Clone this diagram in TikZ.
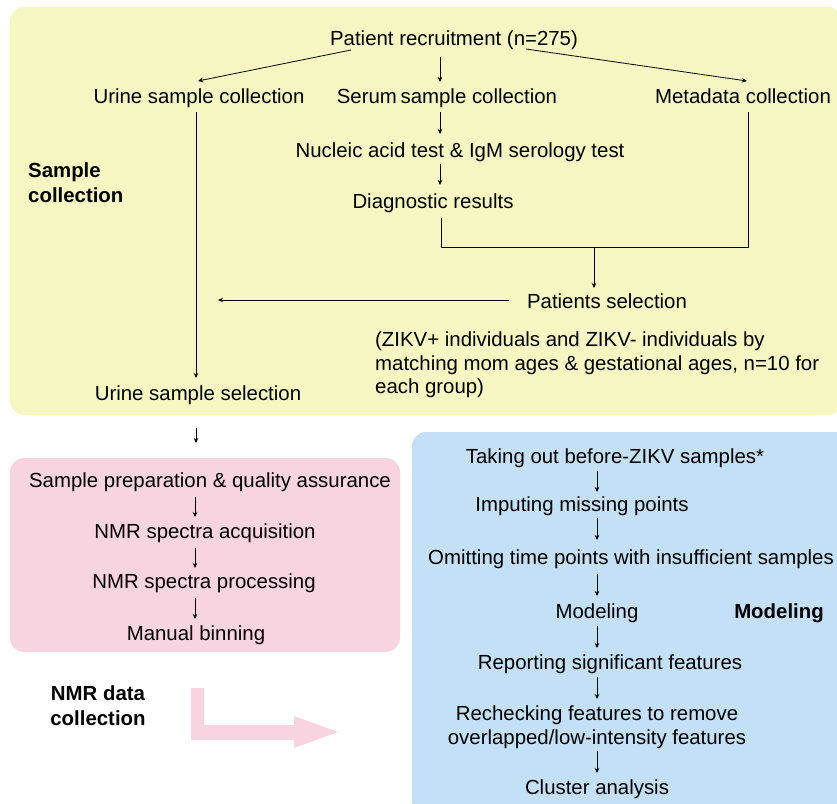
\documentclass[tikz,border=0pt]{standalone}
\usepackage{fontspec}
\setmainfont{Liberation Sans}
\usetikzlibrary{arrows.meta}
\definecolor{ybg}{HTML}{F6F6C3}
\definecolor{pbg}{HTML}{F8D3E0}
\definecolor{bbg}{HTML}{C3E0F7}
\definecolor{parrow}{HTML}{F8D3E0}
\tikzset{
  txt/.style={font=\fontsize{20.4}{23.5}\selectfont, inner sep=0pt, text height=14.6pt, text depth=0pt},
  mtxt/.style={font=\fontsize{20.4}{23.5}\selectfont, inner sep=0pt},
  btxt/.style={font=\fontsize{20.4}{24.5}\selectfont\bfseries, inner sep=0pt},
  arr/.style={line width=0.8pt, -{Stealth[length=5pt,width=4.5pt]}},
  ln/.style={line width=0.8pt},
}
\begin{document}
\begin{tikzpicture}[x=1pt,y=-1pt]
\useasboundingbox (0,0) rectangle (837,803);
\clip (0,0) rectangle (837,803);
% backgrounds
\fill[ybg, rounded corners=14pt] (10,7) rectangle (842,415);
\fill[pbg, rounded corners=14pt] (10,458) rectangle (400,652);
\fill[bbg, rounded corners=14pt] (412,432) rectangle (850,815);
% yellow region nodes
\node[txt] (pr) at (454,38) {Patient recruitment (n=275)};
\node[txt] (urc) at (199,96) {Urine sample collection};
\node[txt] (src) at (447,96) {Serum\hspace{-2pt} sample collection};
\node[txt] (mdc) at (743,96) {Metadata collection};
\node[txt] (nat) at (460,150) {Nucleic acid test \& IgM serology test};
\node[txt] (dr) at (433,201) {Diagnostic results};
\node[btxt, anchor=north west, align=left] (sc) at (28,163) {Sample\\collection};
\node[txt] (ps) at (607,301) {Patients selection};
\node[mtxt, anchor=north west, align=left] (pnote) at (375,332) {(ZIKV+ individuals and ZIKV- individuals by\\matching mom ages \& gestational ages, n=10 for\\each group)};
\node[txt] (uss) at (198,393) {Urine sample selection};
% yellow connectors
\coordinate (prl) at (351,50);
\coordinate (prr) at (526,49);
\coordinate (prm) at (440,57);
\coordinate (j1) at (441,247);
\coordinate (j2) at (748,247);
\coordinate (jm) at (594,247);
\coordinate (pla) at (218,300);
\draw[arr] (prl) -- (198,81);
\draw[arr] (prr) -- (747,81);
\draw[arr] (prm) -- (440,82);
\draw[arr] (440,112) -- (440,134);
\draw[arr] (440,164) -- (440,185);
\draw[ln] (441,218) -- (j1) -- (j2) -- (748,112);
\draw[arr] (jm) -- (594,288);
\draw[arr] (509,300) -- (pla);
\draw[arr] (196,112) -- (196,378);
% between
\draw[arr] (196,428) -- (196,443);
% pink region
\node[txt] (sp) at (210,480) {Sample preparation \& quality assurance};
\node[txt] (na) at (205,531) {NMR spectra acquisition};
\node[txt] (np) at (204,581) {NMR spectra processing};
\node[txt] (mb) at (196,633) {Manual binning};
\draw[arr] (195,497) -- (195,517);
\draw[arr] (195,548) -- (195,568);
\draw[arr] (195,598) -- (195,619);
\node[btxt, anchor=north, align=center] (nmr) at (98,686) {NMR data\\collection};
% pink big arrow
\fill[parrow] (191,688) -- (204,688) -- (204,725) -- (294,725) -- (294,716) -- (338,732) -- (294,748) -- (294,740) -- (191,740) -- cycle;
% blue region
\node[txt] (to) at (615,456) {Taking out before-ZIKV samples*};
\node[txt] (im) at (582,504) {Imputing missing points};
\node[txt] (om) at (631,557) {Omitting time points with insufficient samples};
\node[txt] (mo) at (597,611) {Modeling};
\node[btxt, text height=14.6pt, text depth=0pt] (mob) at (779,611) {Modeling};
\node[txt] (rs) at (610,662) {Reporting significant features};
\node[mtxt, align=center] (rc) at (597,727) {Rechecking features to remove\\overlapped/low-intensity features};
\node[txt] (ca) at (597,787) {Cluster analysis};
\draw[arr] (597,471) -- (597,492);
\draw[arr] (597,518) -- (597,540);
\draw[arr] (597,574) -- (597,596);
\draw[arr] (597,626) -- (597,648);
\draw[arr] (597,677) -- (597,699);
\draw[arr] (597,751) -- (597,773);
\end{tikzpicture}
\end{document}
